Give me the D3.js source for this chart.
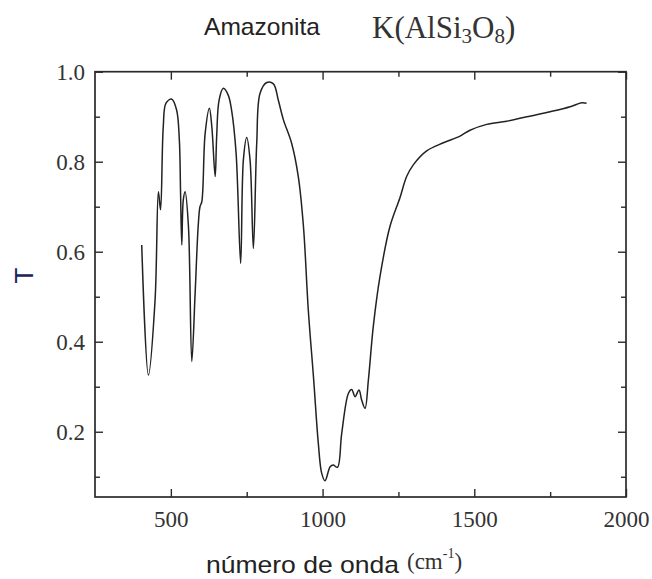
<!DOCTYPE html>
<html><head><meta charset="utf-8">
<script src="https://cdn.jsdelivr.net/npm/d3@7/dist/d3.min.js"></script>
<style>body{margin:0;background:#fff}svg{display:block}</style>
</head><body>
<svg id="chart" width="652" height="579"></svg>
<script>
const wavenumber = [404,426,448,459,466,475,484,503,519,528,532,536,541,547,558,569,580,590,596,602,613,627,635,646,651,659,673,689,700,715,730,739,750,761,772,783,794,816,838,854,871,898,920,937,953,970,986,997,1008,1025,1035,1049,1063,1085,1096,1107,1120,1129,1140,1151,1167,1189,1222,1255,1277,1299,1343,1398,1453,1486,1541,1607,1673,1750,1816,1854,1870];
const transmittance = [0.615,0.326,0.493,0.733,0.693,0.878,0.930,0.939,0.915,0.848,0.730,0.615,0.715,0.733,0.656,0.356,0.508,0.656,0.700,0.711,0.863,0.919,0.878,0.767,0.856,0.937,0.963,0.948,0.915,0.819,0.574,0.804,0.854,0.804,0.607,0.841,0.952,0.976,0.973,0.937,0.893,0.841,0.767,0.656,0.470,0.322,0.174,0.108,0.091,0.122,0.126,0.121,0.196,0.285,0.294,0.278,0.293,0.270,0.252,0.315,0.433,0.544,0.656,0.720,0.767,0.793,0.824,0.842,0.857,0.870,0.883,0.890,0.900,0.911,0.922,0.931,0.930];
const xMajorTicks = [500,1000,1500,2000];
const xMinorTicks = [750,1250,1750];
const yMajorTicks = [0.2,0.4,0.6,0.8,1.0];
const yMinorTicks = [0.1,0.3,0.5,0.7,0.9];

const svg = d3.select("#chart");
const m = {left:95, right:26, top:71.7, bottom:82};
const W = 652, H = 579;
const x = d3.scaleLinear().domain([250,2000]).range([m.left, W-m.right]);
const y = d3.scaleLinear().domain([0.055,1.0]).range([H-m.bottom, m.top]);
const axCol = "#2a2a2a";
const serif = "'Liberation Serif','Times New Roman',serif";
const sans = "'Liberation Sans',Arial,sans-serif";
const MAJ = 8, MIN = 5;

function styleAxis(g){
  g.select(".domain").remove();
  g.selectAll("line").attr("stroke", axCol).attr("stroke-width",1.4);
  g.selectAll("text").attr("font-family", serif).attr("font-size", 23).attr("fill","#333");
}
const bottom = svg.append("g").attr("transform",`translate(0,${H-m.bottom})`)
  .call(d3.axisBottom(x).tickValues(xMajorTicks).tickSizeInner(-MAJ).tickSizeOuter(0).tickPadding(13.4).tickFormat(d3.format("d")));
styleAxis(bottom);
svg.append("g").attr("transform",`translate(0,${H-m.bottom})`)
  .call(d3.axisBottom(x).tickValues(xMinorTicks).tickSize(-MIN).tickFormat("")).call(styleAxis);
svg.append("g").attr("transform",`translate(0,${m.top})`)
  .call(d3.axisTop(x).tickValues(xMajorTicks).tickSize(-MAJ).tickFormat("")).call(styleAxis);
svg.append("g").attr("transform",`translate(0,${m.top})`)
  .call(d3.axisTop(x).tickValues(xMinorTicks).tickSize(-MIN).tickFormat("")).call(styleAxis);

const left = svg.append("g").attr("transform",`translate(${m.left},0)`)
  .call(d3.axisLeft(y).tickValues(yMajorTicks).tickSizeInner(-MAJ).tickSizeOuter(0).tickPadding(10).tickFormat(d3.format(".1f")));
styleAxis(left);
svg.append("g").attr("transform",`translate(${m.left},0)`)
  .call(d3.axisLeft(y).tickValues(yMinorTicks).tickSize(-MIN).tickFormat("")).call(styleAxis);
svg.append("g").attr("transform",`translate(${W-m.right},0)`)
  .call(d3.axisRight(y).tickValues(yMajorTicks).tickSize(-MAJ).tickFormat("")).call(styleAxis);
svg.append("g").attr("transform",`translate(${W-m.right},0)`)
  .call(d3.axisRight(y).tickValues(yMinorTicks).tickSize(-MIN).tickFormat("")).call(styleAxis);

svg.append("rect").attr("x",m.left).attr("y",m.top)
  .attr("width",W-m.left-m.right).attr("height",H-m.top-m.bottom)
  .attr("fill","none").attr("stroke",axCol).attr("stroke-width",1.7);

const pts = wavenumber.map((w,i)=>[w, transmittance[i]]);
const line = d3.line().x(d=>x(d[0])).y(d=>y(d[1])).curve(d3.curveCatmullRom.alpha(0.5));
svg.append("path").datum(pts).attr("d",line)
  .attr("fill","none").attr("stroke","#222").attr("stroke-width",1.5).attr("stroke-linejoin","round");

// titles
svg.append("text").attr("x",204).attr("y",35).attr("font-family",sans).attr("font-size",24)
  .attr("textLength",116).attr("lengthAdjust","spacingAndGlyphs").attr("fill","#222").text("Amazonita");
const formula = svg.append("text").attr("x",372).attr("y",38).attr("font-family",serif).attr("font-size",31).attr("fill","#333");
formula.append("tspan").text("K(AlSi");
formula.append("tspan").attr("font-size",21).attr("dy",5).text("3");
formula.append("tspan").attr("dy",-5).text("O");
formula.append("tspan").attr("font-size",21).attr("dy",5).text("8");
formula.append("tspan").attr("dy",-5).text(")");

// axis labels
svg.append("text").attr("transform","translate(33,275.5) rotate(-90)").attr("text-anchor","middle")
  .attr("font-family",sans).attr("font-size",26).attr("fill","#22225a").text("T");
svg.append("text").attr("x",206).attr("y",573).attr("font-family",sans).attr("font-size",24)
  .attr("textLength",193).attr("lengthAdjust","spacingAndGlyphs").attr("fill","#222").text("número de onda");
const unit = svg.append("text").attr("x",407).attr("y",569).attr("font-family",serif).attr("font-size",23).attr("fill","#333");
unit.append("tspan").text("(cm");
unit.append("tspan").attr("font-size",14).attr("dy",-11).text("-1");
unit.append("tspan").attr("dy",11).text(")");
</script>
</body></html>
